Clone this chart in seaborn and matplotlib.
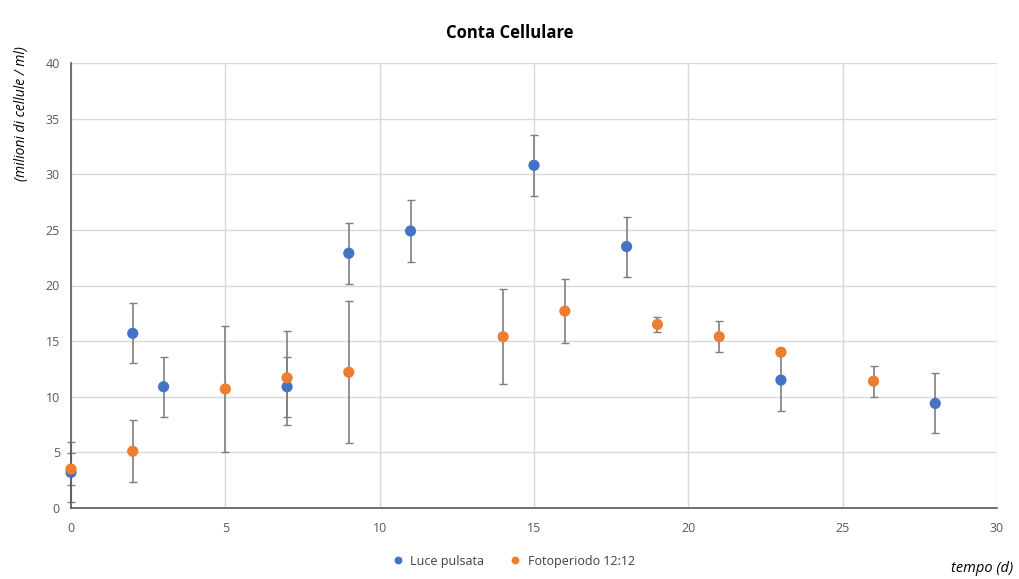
import matplotlib
matplotlib.use("Agg")
import matplotlib.pyplot as plt
import seaborn as sns
import pandas as pd
import numpy as np

# Data
x_luce = [0, 2, 3, 7, 9, 11, 15, 18, 23, 28]
y_luce = [3.2, 15.7, 10.9, 10.9, 22.9, 24.9, 30.8, 23.5, 11.5, 9.4]
e_luce = [2.7, 2.7, 2.7, 2.7, 2.75, 2.75, 2.75, 2.7, 2.75, 2.7]

x_foto = [0, 2, 5, 7, 9, 14, 16, 19, 21, 23, 26]
y_foto = [3.5, 5.1, 10.7, 11.7, 12.2, 15.4, 17.7, 16.5, 15.4, 14.0, 11.4]
e_foto = [1.4, 2.8, 5.7, 4.2, 6.4, 4.25, 2.85, 0.7, 1.4, 0.0, 1.4]

series_names = ["Luce pulsata", "Fotoperiodo 12:12"]
colors = ["#4472C4", "#ED7D31"]

df = pd.DataFrame({
    "x": x_luce + x_foto,
    "y": y_luce + y_foto,
    "err": e_luce + e_foto,
    "serie": [series_names[0]] * len(x_luce) + [series_names[1]] * len(x_foto),
})

sns.set_style("white")
plt.rcParams["font.family"] = ["Open Sans", "DejaVu Sans"]

fig = plt.figure(figsize=(10.2, 5.79), dpi=100)
ax = fig.add_axes([71/1020, 1-508/579, (997-71)/1020, (508-63)/579])

# error bars (behind markers)
for name in series_names:
    d = df[df["serie"] == name]
    eb = ax.errorbar(d["x"], d["y"], yerr=d["err"], fmt="none", ecolor="#7F7F7F",
                     elinewidth=1.2, capsize=3, capthick=1.0, zorder=2)
    for child in eb.get_children():
        child.set_clip_on(False)

sns.scatterplot(data=df, x="x", y="y", hue="serie", palette=colors,
                hue_order=series_names, s=65, edgecolor="none", ax=ax,
                zorder=3, legend=True, clip_on=False)

ax.set_xlim(0, 30)
ax.set_ylim(0, 40)
ax.set_xticks(np.arange(0, 31, 5))
ax.set_yticks(np.arange(0, 41, 5))
ax.grid(True, color="#D9D9D9", linewidth=1)
ax.set_axisbelow(True)
for s in ["top", "right"]:
    ax.spines[s].set_visible(False)
ax.spines["left"].set_color("#595959")
ax.spines["bottom"].set_color("#595959")
ax.spines["left"].set_linewidth(1.2)
ax.spines["bottom"].set_linewidth(1.2)
ax.tick_params(axis="both", colors="#595959", labelsize=9, length=0, pad=8)
ax.tick_params(axis="x", pad=10)
ax.set_xlabel("")
ax.set_ylabel("")

fig.text(0.5, 1-33/579, "Conta Cellulare", ha="center", va="center",
         fontsize=12, fontweight="bold", color="black")
fig.text(22/1020, 1-114/579, "(milioni di cellule / ml)", rotation=90,
         ha="center", va="center", fontsize=10, style="italic", color="black")
fig.text(982/1020, 1-569/579, "tempo (d)", ha="center", va="center",
         fontsize=10.5, style="italic", color="black")

handles, labels = ax.get_legend_handles_labels()
ax.legend_.remove()
fig.legend(handles, labels, loc="center", bbox_to_anchor=(510/1020, 1-561/579),
           ncol=2, frameon=False, fontsize=9, handletextpad=0.0,
           columnspacing=1.5, markerscale=0.7, labelcolor="#404040")

fig.savefig("out.png", dpi=100)
